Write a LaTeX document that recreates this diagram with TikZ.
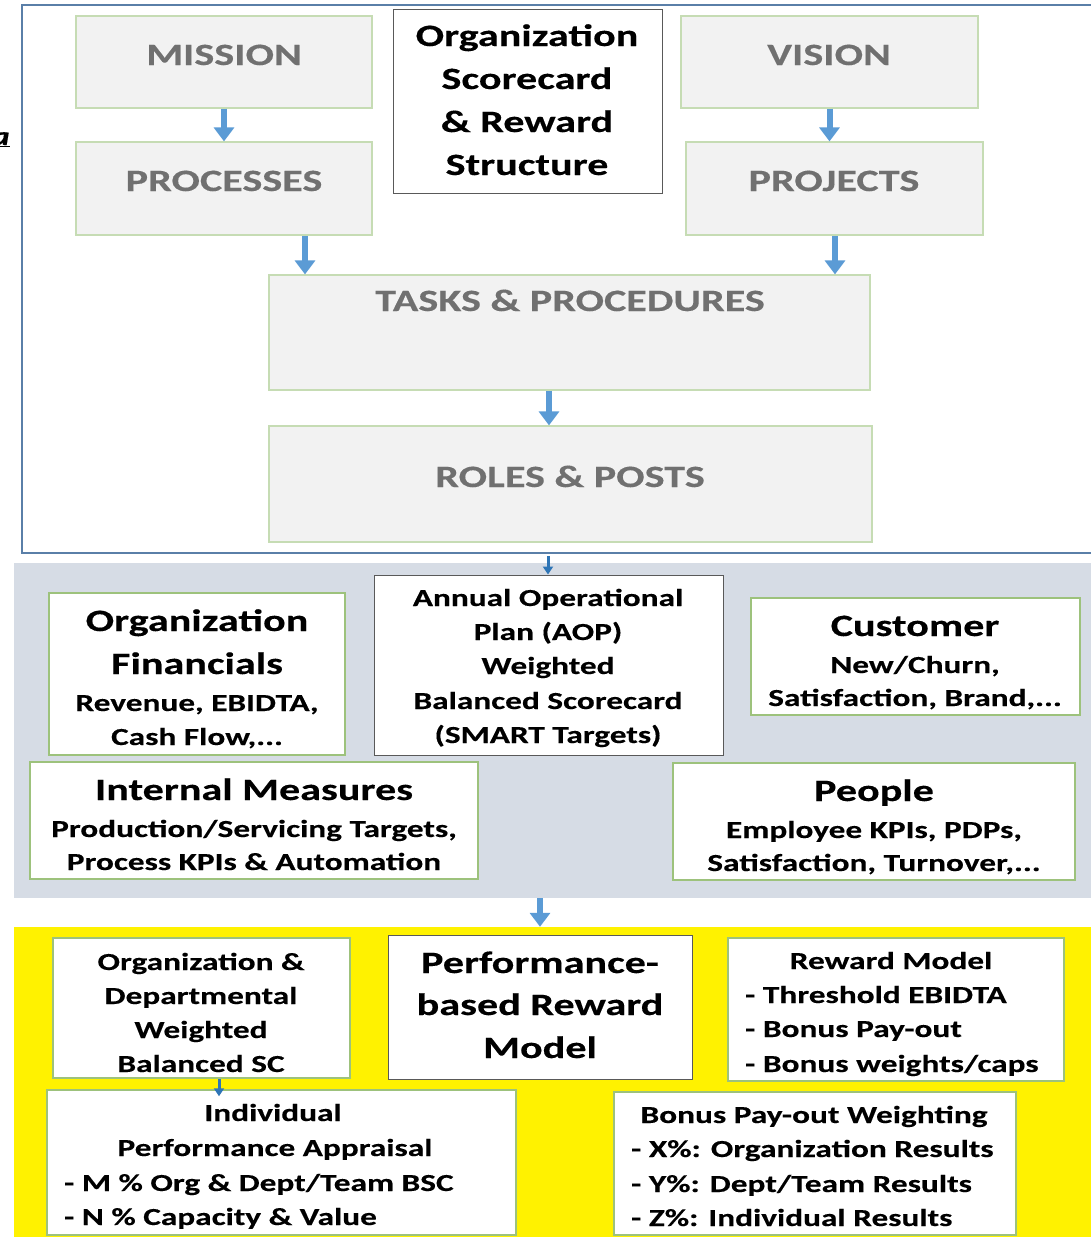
\documentclass[tikz,border=0pt]{standalone}
\usepackage{fontspec}
\setmainfont{Carlito}[FakeStretch=1.36, FakeBold=0.3]
\usetikzlibrary{arrows.meta,calc}
\definecolor{framec}{HTML}{5A7FA8}
\definecolor{grayfill}{HTML}{F2F2F2}
\definecolor{palegreen}{HTML}{C6DCB4}
\definecolor{graytxt}{HTML}{707070}
\definecolor{arrblue}{HTML}{5B9BD5}
\definecolor{darkblue}{HTML}{2E75B6}
\definecolor{bandgray}{HTML}{D6DCE5}
\definecolor{boxgreen}{HTML}{9DC27C}
\definecolor{darkborder}{HTML}{595959}
\begin{document}
\begin{tikzpicture}[x=1pt,y=-1pt,
  graybox/.style={draw=palegreen, fill=grayfill, line width=1.2pt, inner sep=0},
  wbox/.style={draw=boxgreen, fill=white, line width=1.5pt, inner sep=0},
  dbox/.style={draw=darkborder, fill=white, line width=1pt, inner sep=0},
  gtxt/.style={font=\fontsize{31}{37}\selectfont\bfseries, text=graytxt, inner sep=0, text height=20pt, text depth=0pt},
  big/.style={font=\fontsize{31}{37}\selectfont\bfseries, inner sep=0, text height=20pt, text depth=0pt},
  small/.style={font=\fontsize{24.5}{29}\selectfont\bfseries, inner sep=0, text height=16pt, text depth=0pt},
  arr/.style={draw=arrblue, line width=6pt, -{Triangle[width=20pt,length=14pt]}},
  sarr/.style={draw=darkblue, line width=3pt, -{Triangle[width=10pt,length=8pt]}}
]
\useasboundingbox (0,0) rectangle (1091,1237);
% left cut-off glyph
\node[font=\fontsize{26}{30}\selectfont\bfseries\itshape, inner sep=0, anchor=base east] (cut) at (10,145) {\underline{a}};
% frames and bands
\node[draw=framec, line width=1.5pt, minimum width=1078pt, minimum height=548pt, inner sep=0] (frame) at (561,279) {};
\node[fill=bandgray, minimum width=1086pt, minimum height=335pt, inner sep=0] (band) at (557,730.5) {};
\node[fill=yellow, minimum width=1086pt, minimum height=318pt, inner sep=0] (ybox) at (557,1086) {};
% top section
\node[graybox, minimum width=296pt, minimum height=92pt] (mission) at (224,62) {};
\node[graybox, minimum width=296pt, minimum height=93pt] (processes) at (224,188.5) {};
\node[graybox, minimum width=297pt, minimum height=92pt] (vision) at (829.5,62) {};
\node[graybox, minimum width=297pt, minimum height=93pt] (projects) at (834.5,188.5) {};
\node[dbox, minimum width=269pt, minimum height=184pt] (osr) at (527.5,101) {};
\node[graybox, minimum width=601pt, minimum height=115pt] (tasks) at (569.5,332.5) {};
\node[graybox, minimum width=603pt, minimum height=116pt] (roles) at (570.5,484) {};
\node[gtxt] (tmission) at (224,55) {MISSION};
\node[gtxt] (tprocesses) at (224,181) {PROCESSES};
\node[gtxt] (tvision) at (829,55) {VISION};
\node[gtxt] (tprojects) at (834,181) {PROJECTS};
\node[gtxt] (ttasks) at (570,301) {TASKS \& PROCEDURES};
\node[gtxt] (troles) at (570,477) {ROLES \& POSTS};
\node[big] (osr1) at (527,36) {Organization};
\node[big] (osr2) at (527,79) {Scorecard};
\node[big] (osr3) at (527,122) {\& Reward};
\node[big] (osr4) at (527,165) {Structure};
% top arrows
\coordinate (px) at (305,0);
\coordinate (qx) at (835,0);
\draw[arr] (mission.south) -- (processes.north);
\draw[arr] (vision.south) -- (vision.south |- projects.north);
\draw[arr] (processes.south -| px) -- (tasks.north -| px);
\draw[arr] (projects.south -| qx) -- (tasks.north -| qx);
\coordinate (rx) at (549,0);
\draw[arr] (tasks.south -| rx) -- (roles.north -| rx);
% middle section
\node[wbox, minimum width=296pt, minimum height=162pt] (fin) at (197,674) {};
\node[dbox, minimum width=349pt, minimum height=180pt] (aop) at (548.5,665) {};
\node[wbox, minimum width=329pt, minimum height=117pt] (cust) at (915.5,656.5) {};
\node[wbox, minimum width=448pt, minimum height=117pt] (intm) at (254,820.5) {};
\node[wbox, minimum width=402pt, minimum height=117pt] (people) at (874,821.5) {};
\coordinate (ax) at (548,0);
\draw[sarr] ($(frame.south -| ax)+(0,2)$) -- (aop.north -| ax);
\node[big] (fin1) at (197,621) {Organization};
\node[big] (fin2) at (197,664) {Financials};
\node[small] (fin3) at (197,703) {Revenue, EBIDTA,};
\node[small] (fin4) at (197,737) {Cash Flow,...};
\node[small] (aop1) at (548,598) {Annual Operational};
\node[small] (aop2) at (548,632) {Plan (AOP)};
\node[small] (aop3) at (548,666) {Weighted};
\node[small] (aop4) at (548,701) {Balanced Scorecard};
\node[small] (aop5) at (548,735) {(SMART Targets)};
\node[big] (cust1) at (915,626) {Customer};
\node[small] (cust2) at (915,665) {New/Churn,};
\node[small] (cust3) at (915,698) {Satisfaction, Brand,...};
\node[big] (intm1) at (254,790) {Internal Measures};
\node[small] (intm2) at (254,829) {Production/Servicing Targets,};
\node[small] (intm3) at (254,862) {Process KPIs \& Automation};
\node[big] (people1) at (874,791) {People};
\node[small] (people2) at (874,830) {Employee KPIs, PDPs,};
\node[small] (people3) at (874,863) {Satisfaction, Turnover,...};
\coordinate (bx) at (540,0);
\draw[arr] (band.south -| bx) -- (ybox.north -| bx);
% bottom section
\node[wbox, minimum width=297pt, minimum height=140pt] (orgdept) at (201.5,1008) {};
\node[dbox, minimum width=304pt, minimum height=144pt] (perf) at (540,1007) {};
\node[wbox, minimum width=336pt, minimum height=143pt] (reward) at (896,1009.5) {};
\node[wbox, minimum width=469pt, minimum height=145pt] (indiv) at (281.5,1162.5) {};
\node[wbox, minimum width=402pt, minimum height=143pt] (bonus) at (815,1163.5) {};
\coordinate (cx) at (219,0);
\draw[sarr] (orgdept.south -| cx) -- ($(indiv.north -| cx)+(0,7)$);
\node[small] (od1) at (201,962) {Organization \&};
\node[small] (od2) at (201,996) {Departmental};
\node[small] (od3) at (201,1030) {Weighted};
\node[small] (od4) at (201,1064) {Balanced SC};
\node[big] (pf1) at (540,963) {Performance-};
\node[big] (pf2) at (540,1005) {based Reward};
\node[big] (pf3) at (540,1048) {Model};
\node[small] (rw1) at (891,961) {Reward Model};
\node[small, anchor=west] (rw2) at (745,995) {- Threshold EBIDTA};
\node[small, anchor=west] (rw3) at (745,1029) {- Bonus Pay-out};
\node[small, anchor=west] (rw4) at (745,1064) {- Bonus weights/caps};
\node[small] (iv1) at (273,1113) {Individual};
\node[small] (iv2) at (275,1148) {Performance Appraisal};
\node[small, anchor=west] (iv3) at (64,1183) {- M \% Org \& Dept/Team BSC};
\node[small, anchor=west] (iv4) at (64,1217) {- N \% Capacity \& Value};
\node[small] (bn1) at (814,1115) {Bonus Pay-out Weighting};
\node[small, anchor=west] (bn2) at (631,1149) {- X\%: Organization Results};
\node[small, anchor=west] (bn3) at (631,1184) {- Y\%: Dept/Team Results};
\node[small, anchor=west] (bn4) at (631,1218) {- Z\%: Individual Results};
\end{tikzpicture}
\end{document}
